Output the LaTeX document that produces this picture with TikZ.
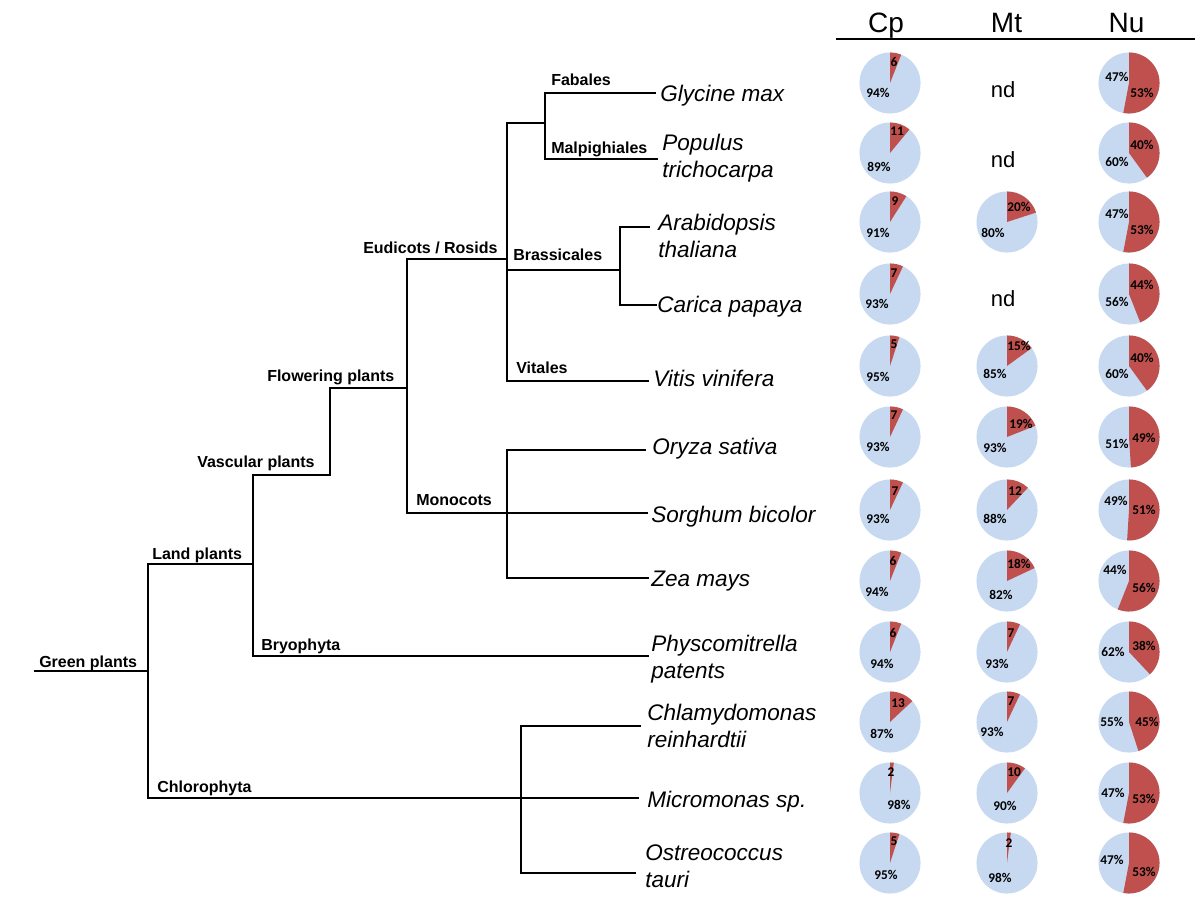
\documentclass[tikz,border=0pt]{standalone}
\usepackage{fontspec}
\setmainfont{Liberation Sans}
\newfontfamily\calfont{Carlito}
\definecolor{piered}{HTML}{C0504D}
\definecolor{pieblue}{HTML}{C6D9F1}
\tikzset{
  branch/.style={line width=1.7pt, line cap=rect, line join=miter},
  clade/.style={anchor=base west, inner sep=0pt, font=\fontsize{12}{14}\selectfont\bfseries},
  species/.style={anchor=base west, inner sep=0pt, align=left, font=\fontsize{16.9}{20.25}\selectfont\itshape},
  colhead/.style={anchor=base, inner sep=0pt, font=\fontsize{21}{24}\selectfont},
  ndlab/.style={anchor=base, inner sep=0pt, font=\fontsize{16.5}{20}\selectfont},
  pielab/.style={inner sep=0pt, font=\fontsize{10}{11}\selectfont\calfont\bfseries}
}
\newcommand\piechart[9]{%
  \fill[pieblue] (#1,#2) circle (22.9pt);
  \fill[piered] (#1,#2) -- ++(90:22.9pt) arc[start angle=90, end angle={90-3.6*#3}, radius=22.9pt] -- cycle;
  \node[pielab] (pr#1-#2) at ({#1+#5},{#2+#6}) {#4};
  \node[pielab] (pb#1-#2) at ({#1+#8},{#2+#9}) {#7};
}
\begin{document}
\begin{tikzpicture}[x=0.75pt, y=-0.75pt]
\useasboundingbox (0,0) rectangle (1200,900);
% internal nodes
\coordinate (root) at (35,671);
\coordinate (gp) at (148,671);
\coordinate (lp) at (253,564);
\coordinate (vp) at (330,475);
\coordinate (fp) at (407,388);
\coordinate (er) at (507,259);
\coordinate (fm) at (545,123);
\coordinate (br) at (620,270);
\coordinate (mc) at (507,513);
\coordinate (ch) at (521,798);
% leaf ends
\coordinate (glyE) at (655,93);
\coordinate (popE) at (657,159);
\coordinate (araE) at (649,227);
\coordinate (carE) at (656,305);
\coordinate (vitE) at (648,381);
\coordinate (oryE) at (645,450);
\coordinate (sorE) at (647,513);
\coordinate (zeaE) at (648,578);
\coordinate (phyE) at (648,656);
\coordinate (chlE) at (640,726);
\coordinate (micE) at (638,798);
\coordinate (ostE) at (635,873);
% branches
\draw[branch] (root) -- (gp);
\draw[branch] (gp) |- (lp);
\draw[branch] (lp) |- (vp);
\draw[branch] (vp) |- (fp);
\draw[branch] (fp) |- (er);
\draw[branch] (er) |- (fm);
\draw[branch] (fm) |- (glyE);
\draw[branch] (fm) |- (popE);
\draw[branch] (er) |- (br);
\draw[branch] (br) |- (araE);
\draw[branch] (br) |- (carE);
\draw[branch] (er) |- (vitE);
\draw[branch] (fp) |- (mc);
\draw[branch] (mc) |- (oryE);
\draw[branch] (mc) -- (sorE);
\draw[branch] (mc) |- (zeaE);
\draw[branch] (lp) |- (phyE);
\draw[branch] (gp) |- (ch);
\draw[branch] (ch) |- (chlE);
\draw[branch] (ch) -- (micE);
\draw[branch] (ch) |- (ostE);
% clade labels
\node[clade] (lgp) at (39,667) {Green plants};
\node[clade] (llp) at (152,559) {Land plants};
\node[clade] (lvp) at (197,467) {Vascular plants};
\node[clade] (lfp) at (267,381) {Flowering plants};
\node[clade] (ler) at (363,253) {Eudicots / Rosids};
\node[clade] (lfa) at (551,85) {Fabales};
\node[clade] (lma) at (551,153) {Malpighiales};
\node[clade] (lbr) at (513,260) {Brassicales};
\node[clade] (lvi) at (516,373) {Vitales};
\node[clade] (lmo) at (416,505) {Monocots};
\node[clade] (lby) at (261,650) {Bryophyta};
\node[clade] (lch) at (157,792) {Chlorophyta};
% species (base = baseline of last line)
\node[species] (gly) at (660,101) {Glycine max};
\node[species] (pop) at (662,177) {Populus\\trichocarpa};
\node[species] (ara) at (658,257) {Arabidopsis\\thaliana};
\node[species] (car) at (657,312) {Carica papaya};
\node[species] (vit) at (653,386) {Vitis vinifera};
\node[species] (ory) at (652,454) {Oryza sativa};
\node[species] (sor) at (651,522) {Sorghum bicolor};
\node[species] (zea) at (651,586) {Zea mays};
\node[species] (phy) at (651,678) {Physcomitrella\\patents};
\node[species] (chl) at (647,747) {Chlamydomonas\\reinhardtii};
\node[species] (mic) at (647,807) {Micromonas sp.};
\node[species] (ost) at (645,887) {Ostreococcus\\tauri};
% header
\node[colhead] (hcp) at (886,32) {Cp};
\node[colhead] (hmt) at (1006.5,32) {Mt};
\node[colhead] (hnu) at (1126.5,32) {Nu};
\coordinate (hl) at (836,39);
\coordinate (hr) at (1195,39);
\draw[line width=1.1pt] (hl) -- (hr);
% Cp column
\piechart{890}{83}{6}{6}{4}{-21}{94\%}{-12}{10}
\piechart{890}{153}{11}{11}{7}{-22}{89\%}{-11}{14}
\piechart{890}{222}{9}{9}{5}{-21}{91\%}{-12}{11}
\piechart{890}{294}{7}{7}{4}{-21}{93\%}{-13}{10}
\piechart{890}{366}{5}{5}{4}{-22}{95\%}{-12}{11}
\piechart{890}{437}{7}{7}{4}{-22}{93\%}{-12}{10}
\piechart{890}{510}{7}{7}{5}{-19}{93\%}{-12}{9}
\piechart{890}{581}{6}{6}{3}{-20}{94\%}{-13}{11}
\piechart{890}{652}{6}{6}{3}{-19}{94\%}{-8}{12}
\piechart{890}{722}{13}{13}{8}{-19}{87\%}{-8}{12}
\piechart{890}{793}{2}{2}{1}{-21}{98\%}{9}{12}
\piechart{890}{863}{5}{5}{4}{-22}{95\%}{-4}{12}
% Mt column
\node[ndlab] (nd1) at (1003,97) {nd};
\node[ndlab] (nd2) at (1003,167) {nd};
\piechart{1007}{222}{20}{20\%}{12}{-15}{80\%}{-14}{11}
\node[ndlab] (nd4) at (1003,306) {nd};
\piechart{1007}{366}{15}{15\%}{12}{-20}{85\%}{-12}{8}
\piechart{1007}{437}{19}{19\%}{14}{-13}{93\%}{-12}{11}
\piechart{1007}{510}{12}{12}{8}{-19}{88\%}{-12}{9}
\piechart{1007}{581}{18}{18\%}{12}{-17}{82\%}{-6}{14}
\piechart{1007}{652}{7}{7}{4}{-19}{93\%}{-10}{12}
\piechart{1007}{722}{7}{7}{4}{-21}{93\%}{-15}{10}
\piechart{1007}{793}{10}{10}{7}{-21}{90\%}{-2}{13}
\piechart{1007}{863}{2}{2}{2}{-20}{98\%}{-7}{15}
% Nu column
\piechart{1129}{83}{53}{53\%}{13}{10}{47\%}{-12}{-6}
\piechart{1129}{153}{40}{40\%}{13}{-8}{60\%}{-12}{9}
\piechart{1129}{222}{53}{53\%}{13}{8}{47\%}{-12}{-8}
\piechart{1129}{294}{44}{44\%}{13}{-9}{56\%}{-12}{8}
\piechart{1129}{366}{40}{40\%}{13}{-8}{60\%}{-12}{8}
\piechart{1129}{437}{49}{49\%}{15}{1}{51\%}{-12}{7}
\piechart{1129}{510}{51}{51\%}{15}{0}{49\%}{-13}{-9}
\piechart{1129}{581}{56}{56\%}{15}{7}{44\%}{-14}{-11}
\piechart{1129}{652}{38}{38\%}{15}{-6}{62\%}{-16}{0}
\piechart{1129}{722}{45}{45\%}{18}{0}{55\%}{-17}{0}
\piechart{1129}{793}{53}{53\%}{15}{6}{47\%}{-16}{0}
\piechart{1129}{863}{53}{53\%}{15}{9}{47\%}{-17}{-3}
\end{tikzpicture}
\end{document}
